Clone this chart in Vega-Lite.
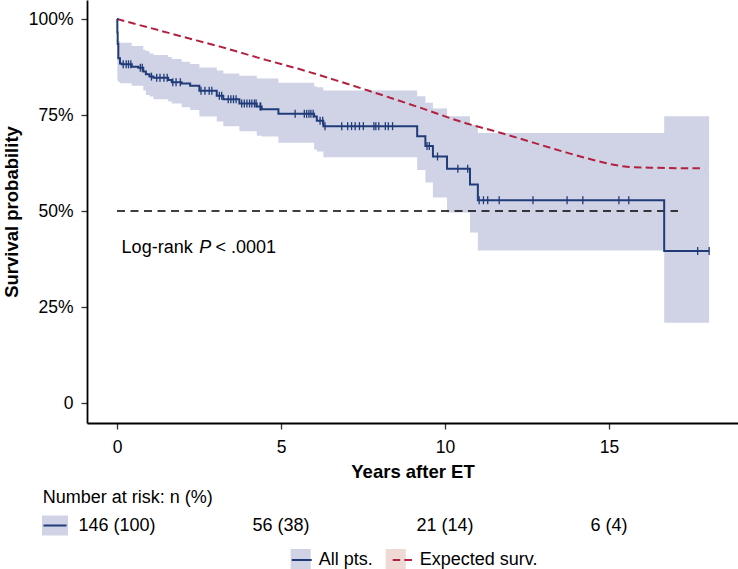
{
  "$schema": "https://vega.github.io/schema/vega-lite/v6.json",
  "padding": {"left": 2, "top": 0, "right": 0, "bottom": 0},
  "autosize": {"type": "pad"},
  "bounds": "flush",
  "spacing": 60.5,
  "datasets": {
    "curves": [
      {"series": "All pts.", "year": 0, "surv": 1.0},
      {"series": "All pts.", "year": 0.01, "surv": 0.965},
      {"series": "All pts.", "year": 0.02, "surv": 0.935},
      {"series": "All pts.", "year": 0.04, "surv": 0.898},
      {"series": "All pts.", "year": 0.09, "surv": 0.884},
      {"series": "All pts.", "year": 0.14, "surv": 0.882},
      {"series": "All pts.", "year": 0.45, "surv": 0.876},
      {"series": "All pts.", "year": 0.65, "surv": 0.873},
      {"series": "All pts.", "year": 0.8, "surv": 0.863},
      {"series": "All pts.", "year": 0.88, "surv": 0.856},
      {"series": "All pts.", "year": 0.99, "surv": 0.85},
      {"series": "All pts.", "year": 1.11, "surv": 0.847},
      {"series": "All pts.", "year": 1.56, "surv": 0.841},
      {"series": "All pts.", "year": 1.67, "surv": 0.835},
      {"series": "All pts.", "year": 1.97, "surv": 0.832},
      {"series": "All pts.", "year": 2.23, "surv": 0.826},
      {"series": "All pts.", "year": 2.51, "surv": 0.813},
      {"series": "All pts.", "year": 3.04, "surv": 0.8},
      {"series": "All pts.", "year": 3.24, "surv": 0.791},
      {"series": "All pts.", "year": 3.73, "surv": 0.78},
      {"series": "All pts.", "year": 4.26, "surv": 0.772},
      {"series": "All pts.", "year": 4.41, "surv": 0.765},
      {"series": "All pts.", "year": 4.92, "surv": 0.753},
      {"series": "All pts.", "year": 6.01, "surv": 0.746},
      {"series": "All pts.", "year": 6.09, "surv": 0.735},
      {"series": "All pts.", "year": 6.29, "surv": 0.721},
      {"series": "All pts.", "year": 9.15, "surv": 0.695},
      {"series": "All pts.", "year": 9.4, "surv": 0.669},
      {"series": "All pts.", "year": 9.63, "surv": 0.642},
      {"series": "All pts.", "year": 10.06, "surv": 0.61},
      {"series": "All pts.", "year": 10.76, "surv": 0.569},
      {"series": "All pts.", "year": 11.0, "surv": 0.528},
      {"series": "All pts.", "year": 16.68, "surv": 0.396},
      {"series": "All pts.", "year": 18.05, "surv": 0.396},
      {"series": "Expected surv.", "year": 0, "surv": 1.0},
      {"series": "Expected surv.", "year": 1, "surv": 0.977},
      {"series": "Expected surv.", "year": 2, "surv": 0.954},
      {"series": "Expected surv.", "year": 3.14, "surv": 0.928},
      {"series": "Expected surv.", "year": 4.56, "surv": 0.893},
      {"series": "Expected surv.", "year": 5.58, "surv": 0.869},
      {"series": "Expected surv.", "year": 6.8, "surv": 0.837},
      {"series": "Expected surv.", "year": 7.61, "surv": 0.815},
      {"series": "Expected surv.", "year": 9.14, "surv": 0.772},
      {"series": "Expected surv.", "year": 10.66, "surv": 0.728},
      {"series": "Expected surv.", "year": 11.68, "surv": 0.704},
      {"series": "Expected surv.", "year": 12.69, "surv": 0.678},
      {"series": "Expected surv.", "year": 13.71, "surv": 0.652},
      {"series": "Expected surv.", "year": 14.52, "surv": 0.633},
      {"series": "Expected surv.", "year": 15.23, "surv": 0.619},
      {"series": "Expected surv.", "year": 15.54, "surv": 0.615},
      {"series": "Expected surv.", "year": 16.25, "surv": 0.613},
      {"series": "Expected surv.", "year": 17.9, "surv": 0.611}
    ],
    "band": [
      {"band": "All pts.", "year": 0.01, "lo": 0.84, "hi": 0.948},
      {"band": "All pts.", "year": 0.04, "lo": 0.836, "hi": 0.943},
      {"band": "All pts.", "year": 0.09, "lo": 0.833, "hi": 0.938},
      {"band": "All pts.", "year": 0.45, "lo": 0.826, "hi": 0.93},
      {"band": "All pts.", "year": 0.8, "lo": 0.814, "hi": 0.92},
      {"band": "All pts.", "year": 0.88, "lo": 0.802, "hi": 0.917},
      {"band": "All pts.", "year": 0.99, "lo": 0.798, "hi": 0.91},
      {"band": "All pts.", "year": 1.11, "lo": 0.791, "hi": 0.906},
      {"band": "All pts.", "year": 1.56, "lo": 0.785, "hi": 0.901},
      {"band": "All pts.", "year": 1.67, "lo": 0.78, "hi": 0.896},
      {"band": "All pts.", "year": 1.97, "lo": 0.77, "hi": 0.889},
      {"band": "All pts.", "year": 2.23, "lo": 0.763, "hi": 0.883},
      {"band": "All pts.", "year": 2.51, "lo": 0.746, "hi": 0.874},
      {"band": "All pts.", "year": 3.04, "lo": 0.733, "hi": 0.866},
      {"band": "All pts.", "year": 3.24, "lo": 0.721, "hi": 0.858},
      {"band": "All pts.", "year": 3.73, "lo": 0.708, "hi": 0.852},
      {"band": "All pts.", "year": 4.26, "lo": 0.696, "hi": 0.845},
      {"band": "All pts.", "year": 4.41, "lo": 0.694, "hi": 0.845},
      {"band": "All pts.", "year": 4.92, "lo": 0.678, "hi": 0.834},
      {"band": "All pts.", "year": 6.01, "lo": 0.66, "hi": 0.825},
      {"band": "All pts.", "year": 6.09, "lo": 0.655, "hi": 0.822},
      {"band": "All pts.", "year": 6.29, "lo": 0.64, "hi": 0.814},
      {"band": "All pts.", "year": 9.15, "lo": 0.607, "hi": 0.799},
      {"band": "All pts.", "year": 9.4, "lo": 0.574, "hi": 0.782},
      {"band": "All pts.", "year": 9.63, "lo": 0.535, "hi": 0.767},
      {"band": "All pts.", "year": 10.06, "lo": 0.496, "hi": 0.747},
      {"band": "All pts.", "year": 10.76, "lo": 0.444, "hi": 0.724},
      {"band": "All pts.", "year": 11.0, "lo": 0.397, "hi": 0.703},
      {"band": "All pts.", "year": 16.68, "lo": 0.209, "hi": 0.747},
      {"band": "All pts.", "year": 18.05, "lo": 0.209, "hi": 0.747}
    ],
    "censor": [
      {"year": 0.19, "surv": 0.882}, {"year": 0.28, "surv": 0.882}, {"year": 0.35, "surv": 0.882}, {"year": 0.42, "surv": 0.882},
      {"year": 0.71, "surv": 0.873}, {"year": 0.77, "surv": 0.873}, {"year": 1.05, "surv": 0.85},
      {"year": 1.21, "surv": 0.847}, {"year": 1.31, "surv": 0.847}, {"year": 1.43, "surv": 0.847}, {"year": 1.53, "surv": 0.847},
      {"year": 1.7, "surv": 0.835}, {"year": 1.8, "surv": 0.835}, {"year": 1.93, "surv": 0.835},
      {"year": 2.56, "surv": 0.813}, {"year": 2.68, "surv": 0.813}, {"year": 2.81, "surv": 0.813}, {"year": 2.89, "surv": 0.813},
      {"year": 3.12, "surv": 0.8}, {"year": 3.19, "surv": 0.8},
      {"year": 3.39, "surv": 0.791}, {"year": 3.47, "surv": 0.791}, {"year": 3.55, "surv": 0.791}, {"year": 3.63, "surv": 0.791},
      {"year": 3.8, "surv": 0.78}, {"year": 3.88, "surv": 0.78}, {"year": 3.96, "surv": 0.78}, {"year": 4.04, "surv": 0.78},
      {"year": 4.11, "surv": 0.78}, {"year": 4.19, "surv": 0.78}, {"year": 4.24, "surv": 0.78},
      {"year": 4.36, "surv": 0.772}, {"year": 4.38, "surv": 0.772},
      {"year": 5.43, "surv": 0.753}, {"year": 5.71, "surv": 0.753}, {"year": 5.78, "surv": 0.753}, {"year": 5.85, "surv": 0.753},
      {"year": 5.91, "surv": 0.753}, {"year": 5.98, "surv": 0.753},
      {"year": 6.19, "surv": 0.735}, {"year": 6.27, "surv": 0.735}, {"year": 6.34, "surv": 0.721},
      {"year": 6.85, "surv": 0.721}, {"year": 7.03, "surv": 0.721}, {"year": 7.15, "surv": 0.721}, {"year": 7.26, "surv": 0.721},
      {"year": 7.39, "surv": 0.721}, {"year": 7.51, "surv": 0.721}, {"year": 7.83, "surv": 0.721}, {"year": 7.89, "surv": 0.721},
      {"year": 7.98, "surv": 0.721}, {"year": 8.18, "surv": 0.721}, {"year": 8.27, "surv": 0.721}, {"year": 8.4, "surv": 0.721},
      {"year": 9.45, "surv": 0.669}, {"year": 9.52, "surv": 0.669}, {"year": 9.77, "surv": 0.642},
      {"year": 10.39, "surv": 0.61}, {"year": 10.69, "surv": 0.61},
      {"year": 11.04, "surv": 0.528}, {"year": 11.17, "surv": 0.528}, {"year": 11.3, "surv": 0.528}, {"year": 11.65, "surv": 0.528},
      {"year": 12.68, "surv": 0.528}, {"year": 13.72, "surv": 0.528}, {"year": 14.2, "surv": 0.528}, {"year": 15.3, "surv": 0.528},
      {"year": 15.6, "surv": 0.528}, {"year": 17.7, "surv": 0.396}, {"year": 18.05, "surv": 0.396}
    ],
    "median": [{"start": 0, "end": 17.1, "surv": 0.5}],
    "notes": [
      {"year": 0.14, "surv": 0.404, "text": "Log-rank", "style": "normal"},
      {"year": 2.51, "surv": 0.404, "text": "P", "style": "italic"},
      {"year": 3.0, "surv": 0.404, "text": "< .0001", "style": "normal"}
    ],
    "risk": [
      {"year": -2.265, "row": 1, "label": "Number at risk: n (%)", "kind": "header"},
      {"year": 0, "row": 0, "label": "146 (100)", "kind": "count"},
      {"year": 5, "row": 0, "label": "56 (38)", "kind": "count"},
      {"year": 10, "row": 0, "label": "21 (14)", "kind": "count"},
      {"year": 15, "row": 0, "label": "6 (4)", "kind": "count"}
    ],
    "riskkey": [{"year": -1.89, "row": 0, "series": "All pts."}]
  },
  "vconcat": [
    {
      "width": 651,
      "height": 423,
      "layer": [
        {
          "data": {"name": "band"},
          "mark": {"type": "area", "interpolate": "step-after", "opacity": 1},
          "encoding": {
            "x": {"field": "year", "type": "quantitative"},
            "y": {"field": "lo", "type": "quantitative"},
            "y2": {"field": "hi"},
            "fill": {
              "field": "band",
              "type": "nominal",
              "scale": {"domain": ["Expected surv.", "All pts."], "range": ["#eed9d4", "#d0d3e6"]},
              "legend": {
                "orient": "none", "legendX": 203.7, "legendY": 549, "direction": "horizontal",
                "values": ["All pts.", "Expected surv."], "zindex": 0, "labelExpr": "''",
                "title": null, "symbolType": "square", "symbolSize": 400, "symbolStrokeWidth": 0,
                "symbolOpacity": 1, "labelFontSize": 18, "labelOffset": 6, "columnPadding": 69
              }
            }
          }
        },
        {
          "data": {"name": "median"},
          "mark": {"type": "rule", "color": "black", "strokeWidth": 1.5, "strokeDash": [8, 5.5]},
          "encoding": {
            "x": {"field": "start", "type": "quantitative"},
            "x2": {"field": "end"},
            "y": {"field": "surv", "type": "quantitative"}
          }
        },
        {
          "data": {"name": "curves"},
          "transform": [{"filter": "datum.series == 'Expected surv.'"}],
          "mark": {"type": "line", "interpolate": "monotone", "strokeWidth": 2},
          "encoding": {
            "x": {"field": "year", "type": "quantitative"},
            "y": {"field": "surv", "type": "quantitative"},
            "stroke": {
              "field": "series", "type": "nominal",
              "scale": {"domain": ["All pts.", "Expected surv."], "range": ["#1f3b78", "#b2213f"]},
              "legend": {
                "orient": "none", "legendX": 203.7, "legendY": 549, "direction": "horizontal", "zindex": 2,
                "title": null, "symbolType": "stroke", "symbolSize": 400, "symbolStrokeWidth": 2,
                "labelFontSize": 18, "labelOffset": 6, "columnPadding": 15
              }
            },
            "strokeDash": {
              "field": "series", "type": "nominal",
              "scale": {"domain": ["All pts.", "Expected surv."], "range": [[1, 0], [7.5, 4.2]]},
              "legend": {
                "orient": "none", "legendX": 203.7, "legendY": 549, "direction": "horizontal", "zindex": 2,
                "title": null, "symbolType": "stroke", "symbolSize": 400, "symbolStrokeWidth": 2,
                "labelFontSize": 18, "labelOffset": 6, "columnPadding": 15
              }
            }
          }
        },
        {
          "data": {"name": "curves"},
          "transform": [{"filter": "datum.series == 'All pts.'"}],
          "mark": {"type": "line", "interpolate": "step-after", "strokeWidth": 2},
          "encoding": {
            "x": {"field": "year", "type": "quantitative"},
            "y": {"field": "surv", "type": "quantitative"},
            "stroke": {"field": "series", "type": "nominal"},
            "strokeDash": {"field": "series", "type": "nominal"}
          }
        },
        {
          "data": {"name": "censor"},
          "mark": {"type": "tick", "orient": "vertical", "size": 8, "thickness": 1.3, "color": "#1f3b78", "opacity": 1},
          "encoding": {
            "x": {"field": "year", "type": "quantitative"},
            "y": {"field": "surv", "type": "quantitative"}
          }
        },
        {
          "data": {"name": "notes"},
          "transform": [{"filter": "datum.style == 'normal'"}],
          "mark": {"type": "text", "align": "left", "baseline": "middle", "fontSize": 18, "color": "black"},
          "encoding": {
            "x": {"field": "year", "type": "quantitative"},
            "y": {"field": "surv", "type": "quantitative"},
            "text": {"field": "text"}
          }
        },
        {
          "data": {"name": "notes"},
          "transform": [{"filter": "datum.style == 'italic'"}],
          "mark": {"type": "text", "align": "left", "baseline": "middle", "fontSize": 18, "fontStyle": "italic", "color": "black"},
          "encoding": {
            "x": {"field": "year", "type": "quantitative"},
            "y": {"field": "surv", "type": "quantitative"},
            "text": {"field": "text"}
          }
        }
      ],
      "encoding": {
        "x": {
          "field": "year", "type": "quantitative",
          "scale": {"domain": [-0.915, 18.93], "nice": false, "zero": false},
          "axis": {"values": [0, 5, 10, 15], "title": "Years after ET", "labelPadding": 9, "titlePadding": 7}
        },
        "y": {
          "field": "surv", "type": "quantitative",
          "scale": {"domain": [-0.052, 1.0495], "nice": false, "zero": false},
          "axis": {
            "values": [0, 0.25, 0.5, 0.75, 1],
            "labelExpr": "datum.value == 0 ? '0' : format(datum.value, '.0%')",
            "title": "Survival probability", "labelPadding": 8, "titlePadding": 7
          }
        }
      }
    },
    {
      "width": 651,
      "height": 56,
      "layer": [
        {
          "data": {"name": "riskkey"},
          "mark": {"type": "point", "shape": "M-1.3,-1H1.3V1H-1.3Z", "size": 400, "filled": true, "fill": "#d0d3e6", "strokeWidth": 0, "opacity": 1},
          "encoding": {
            "x": {"field": "year", "type": "quantitative", "scale": {"domain": [-0.915, 18.93], "nice": false, "zero": false}, "axis": null},
            "y": {"field": "row", "type": "quantitative", "scale": {"domain": [-0.5, 1.5], "nice": false, "zero": false}, "axis": null}
          }
        },
        {
          "data": {"name": "riskkey"},
          "mark": {"type": "point", "shape": "M-1.15,0H1.15", "size": 400, "filled": false, "stroke": "#1f3b78", "strokeWidth": 2, "opacity": 1},
          "encoding": {
            "x": {"field": "year", "type": "quantitative"},
            "y": {"field": "row", "type": "quantitative"}
          }
        },
        {
          "data": {"name": "risk"},
          "transform": [{"filter": "datum.kind == 'header'"}],
          "mark": {"type": "text", "align": "left", "baseline": "middle", "fontSize": 18, "color": "black"},
          "encoding": {
            "x": {"field": "year", "type": "quantitative"},
            "y": {"field": "row", "type": "quantitative"},
            "text": {"field": "label"}
          }
        },
        {
          "data": {"name": "risk"},
          "transform": [{"filter": "datum.kind == 'count'"}],
          "mark": {"type": "text", "align": "center", "baseline": "middle", "fontSize": 18, "color": "black"},
          "encoding": {
            "x": {"field": "year", "type": "quantitative"},
            "y": {"field": "row", "type": "quantitative"},
            "text": {"field": "label"}
          }
        }
      ]
    }
  ],
  "config": {
    "view": {"stroke": null},
    "font": "Liberation Sans",
    "axis": {
      "domainColor": "black", "domainWidth": 1.8, "tickColor": "#333333", "tickWidth": 1.3, "tickSize": 6,
      "labelColor": "black", "labelFont": "Liberation Sans", "labelFontSize": 17.5,
      "titleFont": "Liberation Sans", "titleFontSize": 18.5, "titleFontWeight": "bold", "titleColor": "black",
      "grid": false
    },
    "legend": {"labelFont": "Liberation Sans", "labelColor": "black", "padding": 0}
  }
}
